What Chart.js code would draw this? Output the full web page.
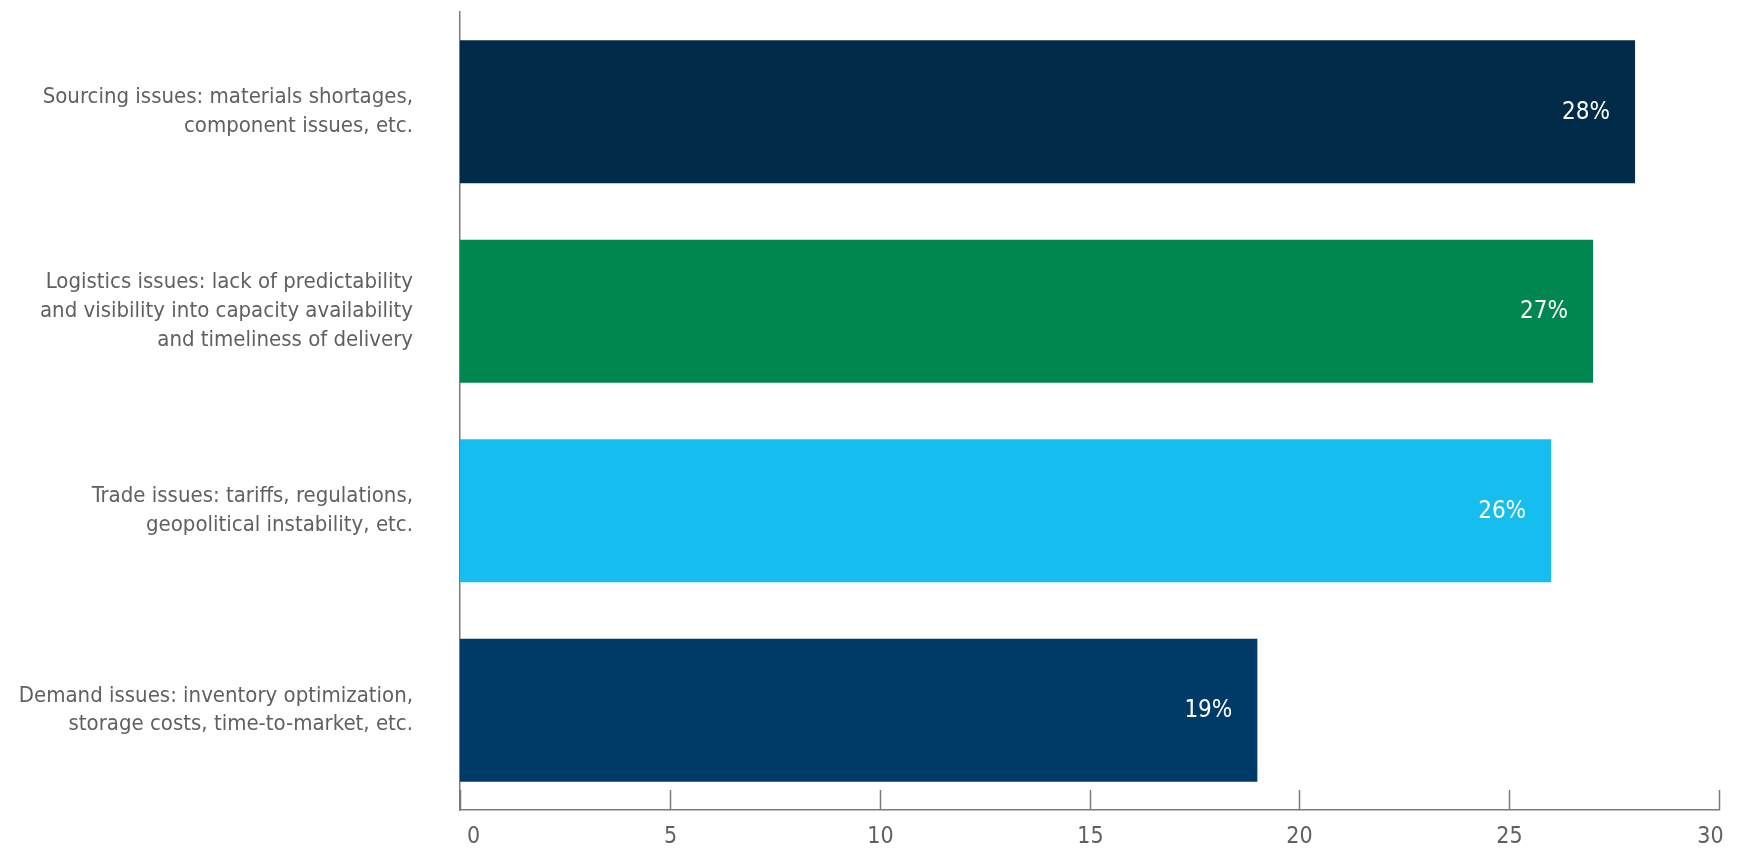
<!DOCTYPE html>
<html>
<head>
<meta charset="utf-8">
<script src="https://cdn.jsdelivr.net/npm/chart.js@4"></script>
<style>
  html, body { margin: 0; padding: 0; background: #fff; }
  #wrap { width: 1743px; height: 852px; }
</style>
</head>
<body>
<div id="wrap"><canvas id="myChart"></canvas></div>
<script>
let categories = [
  ["Sourcing issues: materials shortages,", "component issues, etc."],
  ["Logistics issues: lack of predictability", "and visibility into capacity availability", "and timeliness of delivery"],
  ["Trade issues: tariffs, regulations,", "geopolitical instability, etc."],
  ["Demand issues: inventory optimization,", "storage costs, time-to-market, etc."]
]
let shares = [28, 27, 26, 19]
let barColors = ["#002b49", "#00874f", "#16bef0", "#003b68"]
let xTicks = [0, 5, 10, 15, 20, 25, 30]

const fontFamily = "'Liberation Sans Narrow', 'DejaVu Sans Condensed', 'Roboto Condensed', sans-serif"
const grey = "#5f6062"
const axisGrey = "#7a7a7a"

// x axis: tick marks point up into the plot, labels sit below the line
// (the end labels are nudged inward so they stay under the axis)
const xAxisMarks = {
  id: "xAxisMarks",
  afterDraw(chart) {
    const x = chart.scales.x
    const ctx = chart.ctx
    ctx.save()
    ctx.strokeStyle = axisGrey
    ctx.lineWidth = 1.5
    ctx.fillStyle = grey
    ctx.font = "23px " + fontFamily
    ctx.textAlign = "center"
    ctx.textBaseline = "middle"
    xTicks.forEach((v, i) => {
      const px = Math.round(x.getPixelForValue(v)) + 0.5
      ctx.beginPath()
      ctx.moveTo(px, x.top)
      ctx.lineTo(px, x.top - 20)
      ctx.stroke()
      let shift = 0
      if (i === 0) shift = 13
      if (i === xTicks.length - 1) shift = -9
      ctx.fillText(String(v), px + shift, x.top + 27)
    })
    ctx.restore()
  }
}

// percentage labels inside the bar ends
const barLabels = {
  id: "barLabels",
  afterDatasetsDraw(chart) {
    const ctx = chart.ctx
    const meta = chart.getDatasetMeta(0)
    ctx.save()
    ctx.fillStyle = "#ffffff"
    ctx.font = "24px " + fontFamily
    ctx.textAlign = "right"
    ctx.textBaseline = "middle"
    meta.data.forEach((bar, i) => {
      ctx.fillText(shares[i] + "%", bar.x - 25, bar.y + 1)
    })
    ctx.restore()
  }
}

const ctx = document.getElementById("myChart").getContext("2d")
const myChart = new Chart(ctx, {
  type: "bar",
  data: {
    labels: categories,
    datasets: [{
      data: shares,
      backgroundColor: barColors,
      borderWidth: 0,
      barPercentage: 0.718,
      categoryPercentage: 1
    }]
  },
  options: {
    indexAxis: "y",
    responsive: true,
    maintainAspectRatio: false,
    animation: false,
    layout: { padding: { top: 12, right: 24, left: 0, bottom: 0 } },
    plugins: {
      legend: { display: false },
      tooltip: { enabled: false }
    },
    scales: {
      x: {
        min: 0,
        max: 30,
        afterBuildTicks: scale => { scale.ticks = xTicks.map(v => ({ value: v })) },
        afterFit: scale => {
          scale.height = 42
          scale.paddingLeft = 0
          scale.paddingRight = 0
        },
        grid: { display: false, drawTicks: false },
        border: { display: true, color: axisGrey, width: 1.5 },
        ticks: { display: false }
      },
      y: {
        afterFit: scale => {
          scale.width = 460
          scale.paddingTop = 0
          scale.paddingBottom = 0
        },
        grid: { display: false, drawTicks: false },
        border: { display: true, color: axisGrey, width: 1.5 },
        ticks: {
          padding: 47,
          color: grey,
          font: { family: fontFamily, size: 22, lineHeight: 1.3 }
        }
      }
    }
  },
  plugins: [xAxisMarks, barLabels]
})
</script>
</body>
</html>
